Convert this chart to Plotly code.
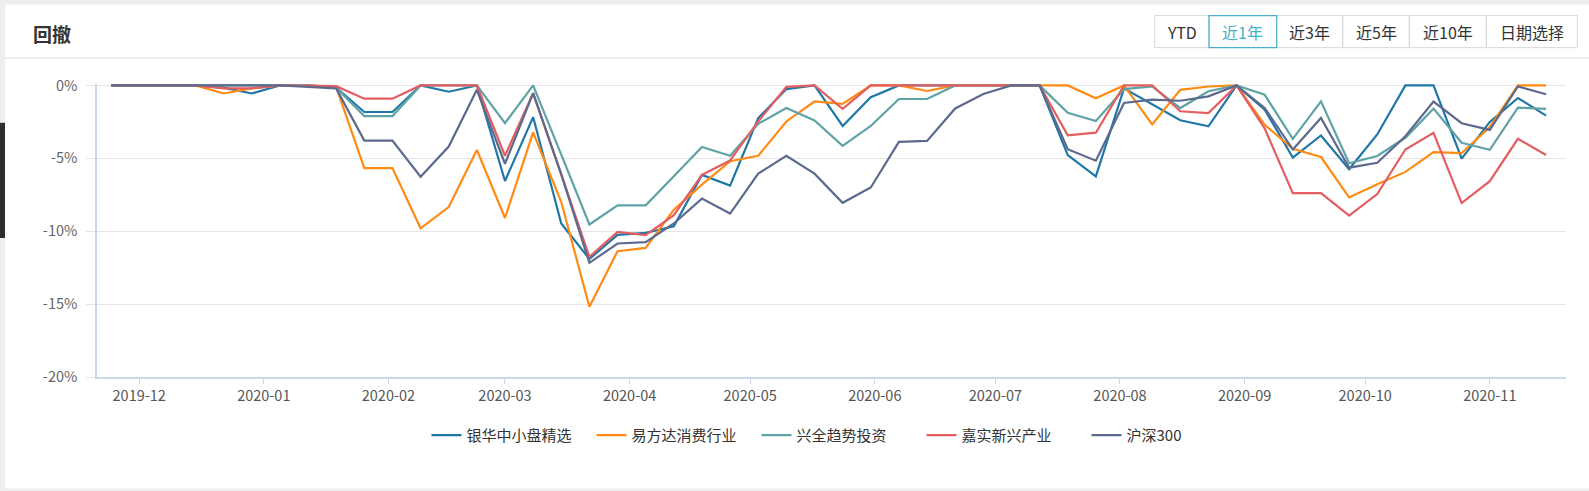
import plotly.graph_objects as go

W, H = 1589, 491
# plot area in pixels (left, right, top, bottom)
L, R, T, B = 97, 1566, 84.3, 376.7


def px(x):
    return (x - L) / (R - L)


def py(y):
    return (B - y) / (B - T)


dates = [
    "2019-11-24", "2019-12-01", "2019-12-08", "2019-12-15", "2019-12-22", "2019-12-29",
    "2020-01-05", "2020-01-12", "2020-01-19", "2020-01-26", "2020-02-02", "2020-02-09",
    "2020-02-16", "2020-02-23", "2020-03-01", "2020-03-08", "2020-03-15", "2020-03-22",
    "2020-03-29", "2020-04-05", "2020-04-12", "2020-04-19", "2020-04-26", "2020-05-03",
    "2020-05-10", "2020-05-17", "2020-05-24", "2020-05-31", "2020-06-07", "2020-06-14",
    "2020-06-21", "2020-06-28", "2020-07-05", "2020-07-12", "2020-07-19", "2020-07-26",
    "2020-08-02", "2020-08-09", "2020-08-16", "2020-08-23", "2020-08-30", "2020-09-06",
    "2020-09-13", "2020-09-20", "2020-09-27", "2020-10-04", "2020-10-11", "2020-10-18",
    "2020-10-25", "2020-11-01", "2020-11-08", "2020-11-15",
]

yinhua = [
    0, 0, 0, 0, -0.15, -0.55, 0, 0, -0.15, -1.82, -1.82, 0, -0.43,
    0, -6.55, -2.17, -9.47, -11.9, -10.25, -10.11, -9.66, -6.14, -6.87, -2.24,
    -0.25, 0, -2.78, -0.81, 0, 0, 0, 0, 0, 0, -4.78, -6.24,
    -0.2, -1.29, -2.39, -2.8, 0, -1.66, -4.95, -3.43, -5.75, -3.36, 0, 0,
    -5.02, -2.5, -0.86, -2.07,
]
efunds = [
    0, 0, 0, 0, -0.55, -0.2, 0, 0, -0.1, -5.67, -5.67, -9.8, -8.34,
    -4.42, -9.09, -3.22, -8.0, -15.18, -11.37, -11.14, -8.52, -6.8, -5.2, -4.82,
    -2.47, -1.1, -1.27, 0, 0, -0.38, 0, 0, 0, 0, 0, -0.88,
    0, -2.67, -0.3, -0.07, 0, -2.7, -4.34, -4.91, -7.68, -6.77, -5.93, -4.57,
    -4.64, -2.85, 0, 0,
]
xingquan = [
    0, 0, 0, 0, 0, 0, 0, 0, -0.15, -2.1, -2.1, 0, 0,
    0, -2.58, 0, -4.75, -9.54, -8.22, -8.22, -6.23, -4.22, -4.82, -2.63,
    -1.55, -2.4, -4.14, -2.78, -0.93, -0.93, 0, 0, 0, 0, -1.88, -2.44,
    -0.25, -0.07, -1.55, -0.4, 0, -0.64, -3.66, -1.09, -5.34, -4.84, -3.59, -1.59,
    -3.93, -4.41, -1.52, -1.61,
]
jiashi = [
    0, 0, 0, 0, -0.2, -0.2, 0, 0, -0.05, -0.91, -0.91, 0, 0,
    0, -4.82, -0.53, -6.1, -11.76, -10.05, -10.27, -8.9, -6.14, -5.14, -2.47,
    -0.1, 0, -1.6, 0, 0, 0, 0, 0, 0, 0, -3.42, -3.24,
    0, 0, -1.77, -1.89, 0, -2.95, -7.39, -7.39, -8.93, -7.45, -4.39, -3.25,
    -8.07, -6.57, -3.66, -4.77,
]
hs300 = [
    0, 0, 0, 0, 0, 0, 0, -0.1, -0.2, -3.78, -3.78, -6.26, -4.19,
    -0.3, -5.37, -0.53, -6.1, -12.17, -10.84, -10.75, -9.47, -7.76, -8.79, -6.05,
    -4.82, -6.05, -8.05, -7.0, -3.87, -3.8, -1.58, -0.59, 0, 0, -4.37, -5.16,
    -1.2, -0.97, -1.05, -0.75, 0, -1.55, -4.39, -2.23, -5.64, -5.3, -3.48, -1.11,
    -2.59, -3.05, -0.07, -0.6,
]

names = ["银华中小盘精选", "易方达消费行业", "兴全趋势投资", "嘉实新兴产业", "沪深300"]
colors = ["#1f77a8", "#ff8a14", "#5fa3a6", "#e35d61", "#5c6a8e"]
values = [yinhua, efunds, xingquan, jiashi, hs300]

y_ticks = [0, -5, -10, -15, -20]
y_labels = ["0%", "-5%", "-10%", "-15%", "-20%"]

buttons = ["YTD", "近1年", "近3年", "近5年", "近10年", "日期选择"]
button_edges = [1154.7, 1209, 1276.7, 1342.7, 1409.3, 1486.3, 1577.3]
active = "近1年"

font_family = "Noto Sans CJK SC, Noto Sans, sans-serif"

fig = go.Figure()
for name, vals, color in zip(names, values, colors):
    fig.add_trace(go.Scatter(
        x=dates, y=vals, mode="lines", name=name,
        line=dict(color=color, width=2.2),
    ))

shapes = []
annotations = []

# page background strips and left tab
gray = "#eeeeee"
for x0, y0, x1, y1, c in [(0, 0, W, 5, gray), (0, 0, 5, H, gray),
                          (0, 488, W, H, gray), (0, 123, 5, 238, "#2e2e2e")]:
    shapes.append(dict(type="rect", xref="paper", yref="paper",
                       x0=px(x0), x1=px(x1), y0=py(y0), y1=py(y1),
                       fillcolor=c, line=dict(width=0), layer="below"))

# header separator
shapes.append(dict(type="line", xref="paper", yref="paper",
                   x0=px(5), x1=px(W), y0=py(58), y1=py(58),
                   line=dict(color="#e6e6e6", width=1.5)))

annotations.append(dict(text="<b>回撤</b>", xref="paper", yref="paper",
                        x=px(31), y=py(34), xanchor="left", yanchor="middle",
                        showarrow=False, font=dict(size=19, color="#333333")))

# range buttons
for i, lab in enumerate(buttons):
    x0, x1 = button_edges[i], button_edges[i + 1]
    on = lab == active
    if not on:
        shapes.append(dict(type="rect", xref="paper", yref="paper",
                           x0=px(x0), x1=px(x1), y0=py(16), y1=py(48),
                           line=dict(color="#d9d9d9", width=1)))
    annotations.append(dict(text=lab, xref="paper", yref="paper",
                            x=px((x0 + x1) / 2), y=py(32.5),
                            xanchor="center", yanchor="middle", showarrow=False,
                            font=dict(size=16, color="#4aaec8" if on else "#333333")))
i = buttons.index(active)
shapes.append(dict(type="rect", xref="paper", yref="paper",
                   x0=px(button_edges[i]), x1=px(button_edges[i + 1]),
                   y0=py(16), y1=py(48), line=dict(color="#4aaec8", width=1.2)))

fig.update_layout(
    width=W, height=H,
    margin=dict(l=L, r=W - R, t=T, b=H - B, pad=0),
    paper_bgcolor="white", plot_bgcolor="white",
    font=dict(family=font_family, color="#333333"),
    showlegend=True,
    legend=dict(orientation="h", x=px(839), xanchor="center",
                y=py(435), yanchor="middle", font=dict(size=15, color="#333333"),
                itemwidth=30, entrywidth=120, entrywidthmode="pixels",
                bgcolor="rgba(0,0,0,0)"),
    xaxis=dict(
        type="date", range=["2019-11-20 12:00", "2020-11-19 23:00"],
        tick0="2019-12-01", dtick="M1", tickformat="%Y-%m",
        ticks="outside", ticklen=5, tickcolor="#ccd6eb",
        showline=True, linecolor="#ccd6eb", linewidth=1.5,
        showgrid=False, zeroline=False,
        tickfont=dict(size=14.5, color="#555555"),
    ),
    yaxis=dict(
        range=[-20, 0.1], tickvals=y_ticks, ticktext=y_labels,
        showgrid=True, gridcolor="#e6e6e6", gridwidth=1,
        showline=True, linecolor="#ccd6eb", linewidth=1.5,
        ticks="outside", ticklen=9, tickcolor="#e6e6e6",
        zeroline=False, ticklabelstandoff=6,
        tickfont=dict(size=14.5, color="#666666"),
    ),
    shapes=shapes,
    annotations=annotations,
    hovermode="x unified",
)

fig.write_html("out.html", config={"displayModeBar": False},
               post_script="document.body.style.margin='0';")
